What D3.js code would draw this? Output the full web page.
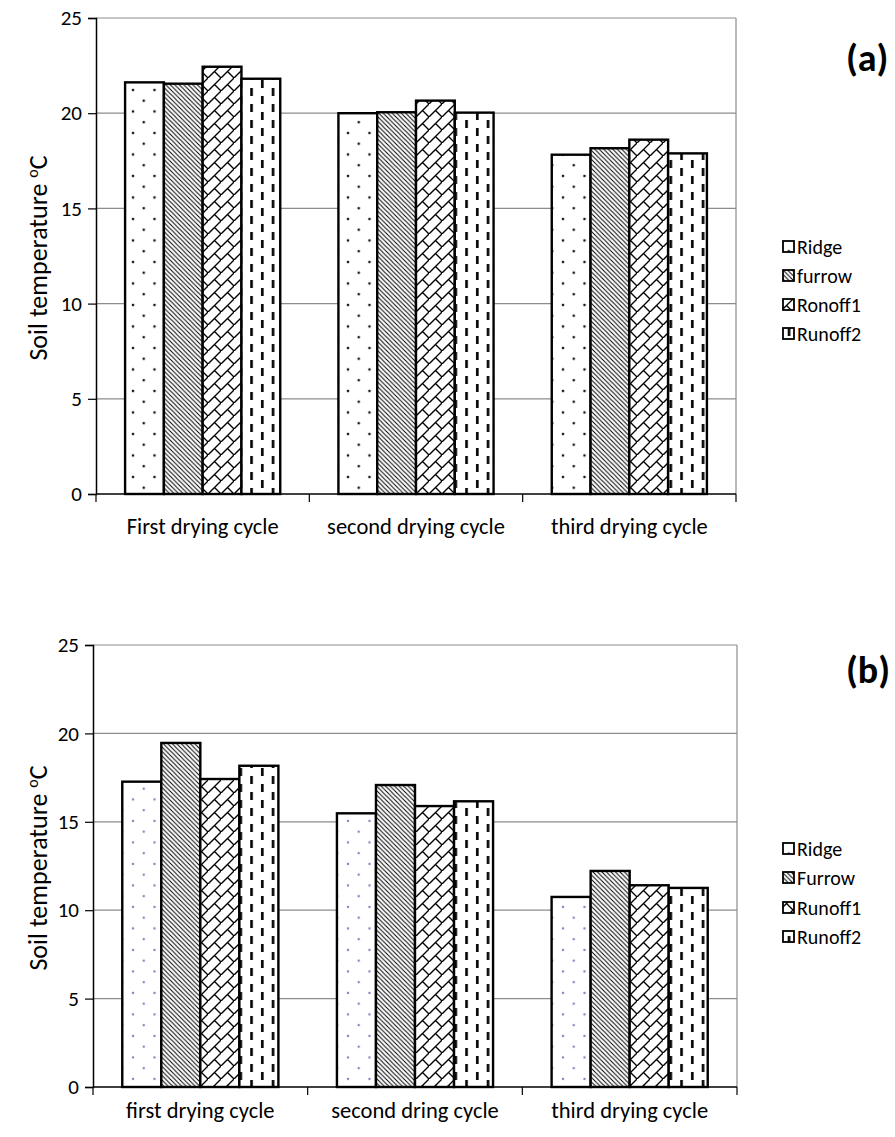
<!DOCTYPE html>
<html><head><meta charset="utf-8">
<script src="https://cdn.jsdelivr.net/npm/d3@7"></script>
<style>body{margin:0;background:#fff}svg{display:block}text{font-family:Carlito,Calibri,Lato,"Liberation Sans",sans-serif}</style>
</head><body>
<script>
// ---- data ----
const yTicks = [0, 5, 10, 15, 20, 25];
const categoriesA = ["First drying cycle", "second drying cycle", "third drying cycle"];
const seriesA = ["Ridge", "furrow", "Ronoff1", "Runoff2"];
const ridgeA   = [21.62, 20.00, 17.82];
const furrowA  = [21.55, 20.05, 18.16];
const runoff1A = [22.44, 20.66, 18.61];
const runoff2A = [21.81, 20.03, 17.89];

const categoriesB = ["first drying cycle", "second dring cycle", "third drying cycle"];
const seriesB = ["Ridge", "Furrow", "Runoff1", "Runoff2"];
const ridgeB   = [17.27, 15.48, 10.75];
const furrowB  = [19.46, 17.08, 12.22];
const runoff1B = [17.42, 15.89, 11.41];
const runoff2B = [18.17, 16.16, 11.26];

const FONT = "Carlito,Calibri,Lato,sans-serif";
const svg = d3.select("body").append("svg").attr("width", 895).attr("height", 1137);
const defs = svg.append("defs");

// patterns
function dotPattern(id, color, r) {
  const p = defs.append("pattern").attr("id", id).attr("patternUnits", "userSpaceOnUse")
    .attr("width", 21.5).attr("height", 21.5);
  p.append("rect").attr("width", 21.5).attr("height", 21.5).attr("fill", "#fff");
  p.append("circle").attr("cx", 4).attr("cy", 4).attr("r", r).attr("fill", color);
  p.append("circle").attr("cx", 14.75).attr("cy", 14.75).attr("r", r).attr("fill", color);
}
dotPattern("pDotsA", "#111", 1.3);
dotPattern("pDotsB", "#7f7fc0", 1.2);
{
  const p = defs.append("pattern").attr("id", "pDiag").attr("patternUnits", "userSpaceOnUse")
    .attr("width", 4.5).attr("height", 4.5);
  p.append("rect").attr("width", 4.5).attr("height", 4.5).attr("fill", "#fff");
  p.append("path").attr("d", "M-1,-1 L5.5,5.5 M-1,3.5 L1,5.5 M3.5,-1 L5.5,1").attr("stroke", "#000").attr("stroke-width", 1);
}
{
  const s = 13;
  const p = defs.append("pattern").attr("id", "pBrick").attr("patternUnits", "userSpaceOnUse")
    .attr("width", s).attr("height", s);
  p.append("rect").attr("width", s).attr("height", s).attr("fill", "#fff");
  p.append("path").attr("d", `M-1,${s+1} L${s+1},-1 M${s/2},${s/2} L${s+1},${s+1} M-1,${-1} L0,0`)
    .attr("stroke", "#000").attr("stroke-width", 1.4).attr("fill", "none");
}
{
  const p = defs.append("pattern").attr("id", "pDash").attr("patternUnits", "userSpaceOnUse")
    .attr("width", 21.5).attr("height", 16);
  p.append("rect").attr("width", 21.5).attr("height", 16).attr("fill", "#fff");
  p.append("rect").attr("x", 3).attr("y", 0).attr("width", 2.6).attr("height", 8).attr("fill", "#000");
  p.append("rect").attr("x", 13.75).attr("y", 8).attr("width", 2.6).attr("height", 8).attr("fill", "#000");
}

function drawChart(cfg) {
  const g = svg.append("g");
  const y = d3.scaleLinear().domain([0, 25]).range([cfg.y0, cfg.y25]);
  const x0 = d3.scaleBand().domain(cfg.categories).range([cfg.xL, cfg.xR]).padding(0);
  const x1 = d3.scaleBand().domain(cfg.series).range([0, x0.bandwidth()]).paddingInner(0).paddingOuter(0.75);

  // gridlines
  g.append("g").selectAll("line").data(yTicks.filter(d => d > 0)).join("line")
    .attr("x1", cfg.xL).attr("x2", cfg.xR).attr("y1", d => y(d)).attr("y2", d => y(d))
    .attr("stroke", "#8c8c8c").attr("stroke-width", 1.2);
  // right border
  g.append("line").attr("x1", cfg.xR).attr("x2", cfg.xR).attr("y1", y(25)).attr("y2", y(0))
    .attr("stroke", "#8c8c8c").attr("stroke-width", 1.2);

  // bars
  const values = cfg.values;
  cfg.categories.forEach((c, ci) => {
    cfg.series.forEach((s, si) => {
      const v = values[si][ci];
      g.append("rect")
        .attr("x", x0(c) + x1(s)).attr("width", x1.bandwidth())
        .attr("y", y(v)).attr("height", y(0) - y(v))
        .attr("fill", `url(#${cfg.fills[si]})`)
        .attr("stroke", "#000").attr("stroke-width", 2.4);
    });
  });

  // y axis
  const ya = g.append("g").attr("transform", `translate(${cfg.xL},0)`)
    .call(d3.axisLeft(y).tickValues(yTicks).tickSize(8).tickPadding(6));
  ya.select(".domain").attr("stroke", "#000").attr("stroke-width", 1.5);
  ya.selectAll(".tick line").attr("stroke", "#000").attr("stroke-width", 1.2);
  ya.selectAll("text").attr("font-size", 21).attr("fill", "#000").attr("font-family", FONT);

  // x axis
  const xa = g.append("g").attr("transform", `translate(0,${cfg.y0})`)
    .call(d3.axisBottom(x0).tickSize(0).tickPadding(cfg.xPad));
  xa.select(".domain").remove();
  xa.selectAll("text").attr("font-size", 22.5).attr("fill", "#000").attr("font-family", FONT);
  g.append("line").attr("x1", cfg.xL).attr("x2", cfg.xR).attr("y1", cfg.y0).attr("y2", cfg.y0)
    .attr("stroke", "#000").attr("stroke-width", 1.5);
  const bounds = cfg.categories.map(c => x0(c)).concat([cfg.xR]);
  g.append("g").selectAll("line").data(bounds).join("line")
    .attr("x1", d => d).attr("x2", d => d).attr("y1", cfg.y0).attr("y2", cfg.y0 + 8)
    .attr("stroke", "#000").attr("stroke-width", 1.2);

  // y title
  const t = g.append("text")
    .attr("transform", `translate(${cfg.titleX},${cfg.titleY}) rotate(-90)`)
    .attr("text-anchor", "middle").attr("font-size", 26).attr("fill", "#000");
  t.append("tspan").text("Soil temperature ");
  t.append("tspan").attr("font-size", 16).attr("dy", -9).text("o");
  t.append("tspan").attr("dy", 9).text("C");

  // panel label
  g.append("text").attr("x", 846).attr("y", cfg.labelY).attr("font-size", 38).attr("font-weight", "bold")
    .attr("fill", "#000").text(cfg.label);

  // legend
  const lg = g.append("g");
  cfg.series.forEach((s, si) => {
    const ly = cfg.legendY[si];
    lg.append("rect").attr("x", 783).attr("y", ly - 6).attr("width", 11).attr("height", 11)
      .attr("fill", `url(#${cfg.fills[si]})`).attr("stroke", "#000").attr("stroke-width", 1.8);
    lg.append("text").attr("x", 797).attr("y", ly + 7).attr("font-size", 20).attr("fill", "#000").text(s);
  });
}

drawChart({
  categories: categoriesA, series: seriesA,
  values: [ridgeA, furrowA, runoff1A, runoff2A],
  fills: ["pDotsA", "pDiag", "pBrick", "pDash"],
  xL: 96, xR: 736, y0: 494, y25: 18, titleX: 47, titleY: 258, xPad: 24,
  label: "(a)", labelY: 71, legendY: [247, 276, 305, 334]
});
drawChart({
  categories: categoriesB, series: seriesB,
  values: [ridgeB, furrowB, runoff1B, runoff2B],
  fills: ["pDotsB", "pDiag", "pBrick", "pDash"],
  xL: 93, xR: 737, y0: 1087, y25: 645, titleX: 47, titleY: 868, xPad: 15,
  label: "(b)", labelY: 683, legendY: [849, 878, 908, 937]
});
</script>
</body></html>
